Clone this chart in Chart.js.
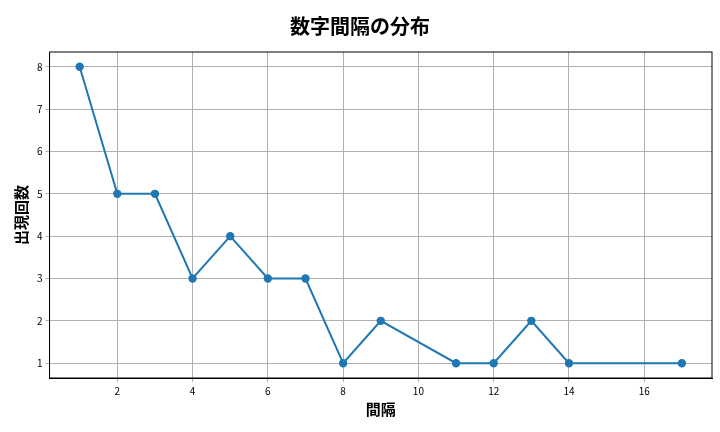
<!DOCTYPE html>
<html>
<head>
<meta charset="utf-8">
<script src="https://cdn.jsdelivr.net/npm/chart.js@4/dist/chart.umd.min.js"></script>
<style>
  html, body { margin: 0; padding: 0; background: #fff; }
  #wrap { width: 720px; height: 432px; }
</style>
</head>
<body>
<div id="wrap"><canvas id="gapChart"></canvas></div>
<script>
// Interval values and how often each appears
const gaps = [1, 2, 3, 4, 5, 6, 7, 8, 9, 11, 12, 13, 14, 17];
const counts = [8, 5, 5, 3, 4, 3, 3, 1, 2, 1, 1, 2, 1, 1];
const xTicks = [2, 4, 6, 8, 10, 12, 14, 16];
const yTicks = [1, 2, 3, 4, 5, 6, 7, 8];

const fontFamily = '"Noto Sans CJK JP", "DejaVu Sans", sans-serif';
const points = gaps.map((g, i) => ({ x: g, y: counts[i] }));

// draw a full box around the plot area
const frame = {
    id: 'frame',
    afterDraw(chart) {
        const { ctx, chartArea: a } = chart;
        ctx.save();
        ctx.strokeStyle = '#000';
        ctx.lineWidth = 1;
        ctx.strokeRect(a.left, a.top, a.right - a.left, a.bottom - a.top);
        ctx.restore();
    }
};

new Chart(document.getElementById('gapChart'), {
    type: 'line',
    data: {
        datasets: [{
            data: points,
            borderColor: '#1f77b4',
            backgroundColor: '#1f77b4',
            borderWidth: 2,
            pointRadius: 3.2,
            pointHoverRadius: 4,
            tension: 0
        }]
    },
    options: {
        responsive: true,
        maintainAspectRatio: false,
        animation: false,
        layout: { padding: { left: 8, right: 8, top: 4, bottom: 10 } },
        plugins: {
            legend: { display: false },
            tooltip: { enabled: false },
            title: {
                display: true,
                text: '数字間隔の分布',
                color: '#000',
                font: { family: fontFamily, size: 20, weight: 'bold' },
                padding: { top: 10, bottom: 14 }
            }
        },
        scales: {
            x: {
                type: 'linear',
                min: 0.2,
                max: 17.8,
                afterBuildTicks: axis => { axis.ticks = xTicks.map(v => ({ value: v })); },
                ticks: { color: '#000', font: { family: fontFamily, size: 10 }, maxRotation: 0 },
                grid: { color: '#b0b0b0', tickLength: 4 },
                border: { color: '#000' },
                title: {
                    display: true,
                    text: '間隔',
                    color: '#000',
                    font: { family: fontFamily, size: 15, weight: 'bold' },
                    padding: { top: 0 }
                }
            },
            y: {
                min: 0.65,
                max: 8.35,
                afterBuildTicks: axis => { axis.ticks = yTicks.map(v => ({ value: v })); },
                ticks: { color: '#000', font: { family: fontFamily, size: 10 } },
                grid: { color: '#b0b0b0', tickLength: 4 },
                border: { color: '#000' },
                title: {
                    display: true,
                    text: '出現回数',
                    color: '#000',
                    font: { family: fontFamily, size: 15, weight: 'bold' },
                    padding: { bottom: 4 }
                }
            }
        }
    },
    plugins: [frame]
});
</script>
</body>
</html>
